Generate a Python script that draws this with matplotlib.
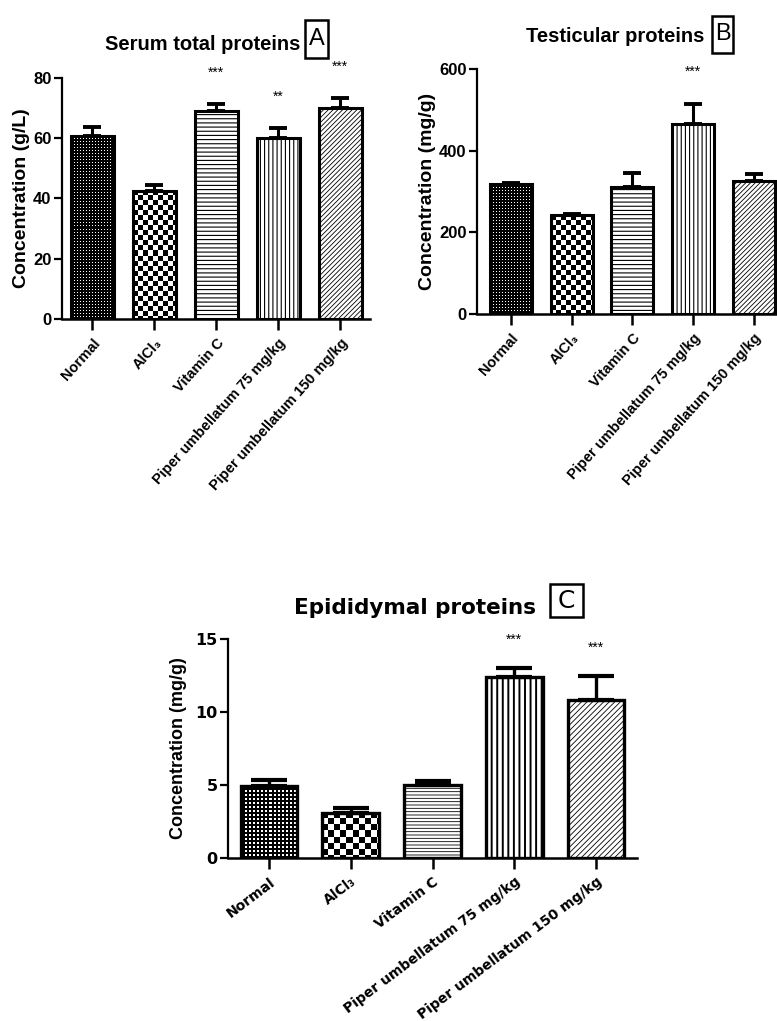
import numpy as np
import matplotlib
matplotlib.use('Agg')
import matplotlib.pyplot as plt
from matplotlib import font_manager
from matplotlib.patches import Rectangle

# group names and values (mean, upper error)
groups = ['Normal', 'AlCl\u2083', 'Vitamin C', 'Piper umbellatum 75 mg/kg', 'Piper umbellatum 150 mg/kg']

serum_mean = [60.8, 42.6, 68.9, 60.2, 70.2]
serum_err = [2.8, 1.9, 2.4, 3.1, 3.1]
serum_sig = ['', '', '***', '**', '***']
serum_ticks = [0, 20, 40, 60, 80]

testis_mean = [318, 242, 312, 465, 326]
testis_err = [4, 4, 33, 49, 18]
testis_sig = ['', '', '', '***', '']
testis_ticks = [0, 200, 400, 600]

epid_mean = [4.93, 3.1, 4.98, 12.38, 10.8]
epid_err = [0.41, 0.3, 0.32, 0.65, 1.67]
epid_sig = ['', '', '', '***', '***']
epid_ticks = [0, 5, 10, 15]

W, H = 777, 1021
names = {f.name for f in font_manager.fontManager.ttflist}
NARROW = 'Liberation Sans Narrow' if 'Liberation Sans Narrow' in names else 'Liberation Sans'
SANS = 'Liberation Sans'
WIDE = 'DejaVu Sans'

plt.rcParams['hatch.linewidth'] = 0.7

fig = plt.figure(figsize=(W / 100, H / 100), dpi=100)


def px_axes(left, right, top, bottom):
    return fig.add_axes([left / W, (H - bottom) / H, (right - left) / W, (bottom - top) / H])


def texture(ax, bar, kind, size):
    # draw a pixel pattern inside a bar (dots or checkerboard)
    bb = bar.get_window_extent()
    w = max(int(round(bb.width)), 1)
    h = max(int(round(bb.height)), 1)
    i, j = np.mgrid[0:h, 0:w]
    if kind == 'check':
        arr = ((i // size + j // size) % 2).astype(float)
    else:
        p, d = size
        arr = (((i % p) < d) & ((j % p) < d)).astype(float)
    x0 = bar.get_x()
    im = ax.imshow(arr, extent=(x0, x0 + bar.get_width(), 0, bar.get_height()),
                   cmap='gray', vmin=0, vmax=1, interpolation='nearest',
                   aspect='auto', zorder=1)
    im.set_clip_path(bar)


def set_hatch(bar, pattern, lw):
    bar.set_hatch(pattern)
    if hasattr(bar, 'set_hatch_linewidth'):
        bar.set_hatch_linewidth(lw)


def panel(ax, means, errs, sig, ticks, xlim, ylab, st):
    x = np.arange(len(groups))
    ax.set_xlim(*xlim)
    ax.set_ylim(0, ticks[-1])
    bars = ax.bar(x, means, width=0.69, facecolor='white', edgecolor='black',
                  linewidth=st['blw'], zorder=2)
    bars[0].set_facecolor('none')
    bars[1].set_facecolor('none')
    set_hatch(bars[2], '-' * st['hh'], st['hlw'][0])
    set_hatch(bars[3], '|' * st['hv'], st['hlw'][1])
    set_hatch(bars[4], '/' * st['hd'], st['hlw'][2])
    ax.errorbar(x, means, yerr=[np.zeros(len(x)), errs], fmt='none', ecolor='black',
                elinewidth=st['blw'], capsize=st['cap'], capthick=st['blw'] + 0.6, zorder=3)
    texture(ax, bars[0], 'dots', st['dots'])
    texture(ax, bars[1], 'check', st['check'])
    ax.set_xlim(*xlim)
    ax.set_ylim(0, ticks[-1])

    for k in range(len(x)):
        if sig[k]:
            ax.text(x[k], means[k] + errs[k] + 0.13 * ticks[-1], sig[k], ha='center',
                    va='center', fontsize=st['star'], family=SANS, clip_on=False)

    for s in ['top', 'right']:
        ax.spines[s].set_visible(False)
    ax.spines['left'].set_linewidth(1.6)
    ax.spines['bottom'].set_linewidth(1.8)
    ax.set_yticks(ticks)
    ax.set_yticklabels([str(t) for t in ticks], family=st['tickfont'], fontsize=st['ytick'],
                       fontweight='bold')
    ax.set_xticks(x)
    ax.set_xticklabels(groups, rotation=st['rot'], ha='right', rotation_mode='anchor',
                       family=[st['xfont'], WIDE], fontsize=st['xtick'], fontweight='bold')
    ax.tick_params(axis='y', length=6, width=1.6, pad=1.5)
    ax.tick_params(axis='x', length=8, width=1.8, pad=4)
    ax.set_ylabel(ylab, family=st['labfont'], fontsize=st['ylab'], fontweight='bold',
                  labelpad=st['labpad'])


top_style = dict(blw=2.2, hh=4, hv=4, hd=7, hlw=(0.8, 0.8, 0.6), cap=6.5, dots=(3, 1),
                 check=5, star=10, tickfont=NARROW, ytick=12, xfont=SANS, xtick=10.5,
                 rot=48, labfont=SANS, ylab=14, labpad=2)
bot_style = dict(blw=2.4, hh=5, hv=3, hd=6, hlw=(0.6, 1.4, 0.6), cap=13, dots=(4, 2),
                 check=6, star=10, tickfont=WIDE, ytick=11.5, xfont=WIDE, xtick=10,
                 rot=37, labfont=NARROW, ylab=13, labpad=6)

axA = px_axes(62, 370, 78, 319)
panel(axA, serum_mean, serum_err, serum_sig, serum_ticks, (-0.49, 4.48),
      'Concentration (g/L)', top_style)

axB = px_axes(477, 784, 69, 314)
panel(axB, testis_mean, testis_err, testis_sig, testis_ticks, (-0.56, 4.5),
      'Concentration (mg/g)', top_style)

axC = px_axes(228, 637, 639, 858)
panel(axC, epid_mean, epid_err, epid_sig, epid_ticks, (-0.5, 4.5),
      'Concentration (mg/g)', bot_style)


# titles and boxed panel letters
def fx(px):
    return px / W


def fy(py):
    return 1 - py / H


def letter_box(left, right, top, bottom, letter, family, size):
    fig.patches.append(Rectangle((fx(left), fy(bottom)), (right - left) / W, (bottom - top) / H,
                                 transform=fig.transFigure, facecolor='white',
                                 edgecolor='black', linewidth=1.8))
    fig.text(fx((left + right) / 2), fy((top + bottom) / 2), letter, ha='center',
             va='center', family=family, fontsize=size)


fig.text(fx(203), fy(50), 'Serum total proteins', ha='center', va='baseline',
         family=NARROW, fontsize=14.5, fontweight='bold')
fig.text(fx(615), fy(42), 'Testicular proteins', ha='center', va='baseline',
         family=NARROW, fontsize=14.5, fontweight='bold')
fig.text(fx(415), fy(614), 'Epididymal proteins', ha='center', va='baseline',
         family=WIDE, fontsize=15.5, fontweight='bold')

letter_box(305, 328, 20, 58, 'A', NARROW, 17)
letter_box(712, 733, 16, 53, 'B', NARROW, 17)
letter_box(550, 583, 584, 617, 'C', WIDE, 18)

fig.savefig('out.png', dpi=100)
